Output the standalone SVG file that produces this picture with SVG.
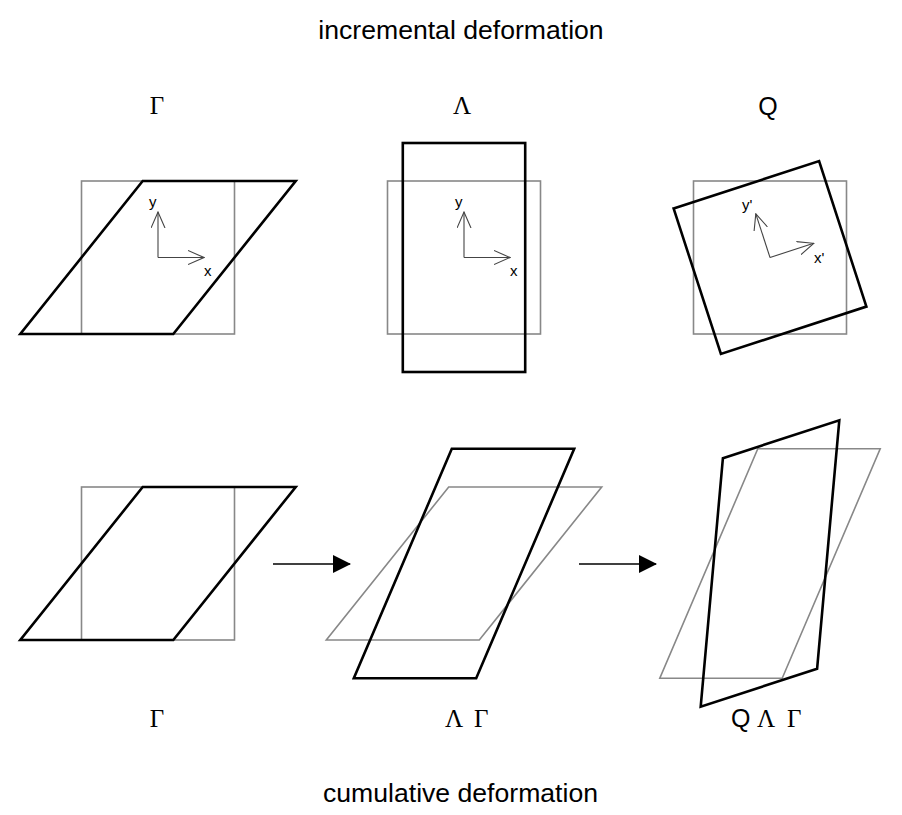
<svg xmlns="http://www.w3.org/2000/svg" width="902" height="815" viewBox="0 0 902 815">
<style>
.ref{fill:none;stroke:#888;stroke-width:1.6}
.def{fill:none;stroke:#000;stroke-width:2.6;stroke-linejoin:miter}
.ax{fill:none;stroke:#444;stroke-width:1.1}
.axl{font-family:"Liberation Sans",Arial,sans-serif;font-size:15px;fill:#000}
.title{font-family:"Liberation Sans",Arial,sans-serif;font-size:26.6px;fill:#000;text-anchor:middle}
.gr{font-family:"Liberation Serif","Times New Roman",serif;font-size:25px;fill:#000}
.q{font-family:"Liberation Sans",Arial,sans-serif;font-size:25px;fill:#000}
.conn{fill:none;stroke:#000;stroke-width:1.4}
</style>
<defs>
<marker id="open" markerUnits="userSpaceOnUse" viewBox="0 0 17 15" refX="16" refY="7.5" markerWidth="17" markerHeight="15" orient="auto">
<path d="M0,0.5 L16,7.5 L0,14.5" fill="none" stroke="#444" stroke-width="1.1"/>
</marker>
<marker id="solid" markerUnits="userSpaceOnUse" viewBox="0 0 18 18" refX="17" refY="9" markerWidth="18" markerHeight="18" orient="auto">
<path d="M0,0 L18,9 L0,18 z" fill="#000"/>
</marker>
</defs>
<rect width="902" height="815" fill="#fff"/>

<text class="title" x="461" y="39">incremental deformation</text>
<text class="title" x="460.5" y="802">cumulative deformation</text>

<g id="gamma">
<text class="gr" x="157" y="114" text-anchor="middle">Γ</text>
<rect class="ref" x="81.5" y="181" width="153" height="153"/>
<polygon class="def" points="142.7,181 295.7,181 173.3,334 20.3,334"/>
<path class="ax" d="M158,257.5 V212" marker-end="url(#open)"/>
<path class="ax" d="M158,257.5 H204" marker-end="url(#open)"/>
<text class="axl" x="149" y="207">y</text>
<text class="axl" x="204" y="276">x</text>
</g>

<g id="lambda">
<text class="gr" x="462" y="114" text-anchor="middle">Λ</text>
<rect class="ref" x="387.5" y="181" width="153" height="153"/>
<rect class="def" x="402.8" y="143" width="122.4" height="229"/>
<path class="ax" d="M464,257.5 V212" marker-end="url(#open)"/>
<path class="ax" d="M464,257.5 H510" marker-end="url(#open)"/>
<text class="axl" x="455" y="207">y</text>
<text class="axl" x="510" y="276">x</text>
</g>

<g id="q">
<text class="q" x="768" y="115" text-anchor="middle">Q</text>
<rect class="ref" x="693.5" y="181" width="153" height="153"/>
<polygon class="def" points="673.6,208.4 819.1,161.1 866.4,306.6 720.9,353.9"/>
<path class="ax" d="M770,257.5 L813.7,243.3" marker-end="url(#open)"/>
<path class="ax" d="M770,257.5 L755.8,213.8" marker-end="url(#open)"/>
<text class="axl" x="742" y="210">y'</text>
<text class="axl" x="814" y="263">x'</text>
</g>

<g id="cum-gamma">
<rect class="ref" x="81.5" y="487" width="153" height="153"/>
<polygon class="def" points="142.7,487 295.7,487 173.3,640 20.3,640"/>
<text class="gr" x="157" y="727" text-anchor="middle">Γ</text>
</g>

<g id="cum-lambda-gamma">
<polygon class="ref" points="448.7,487 601.7,487 479.3,640 326.3,640"/>
<polygon class="def" points="451.8,448.8 574.2,448.8 476.2,678.2 353.8,678.2"/>
<text class="gr" y="727"><tspan x="445">Λ</tspan><tspan x="474">Γ</tspan></text>
</g>

<g id="cum-q-lambda-gamma">
<polygon class="ref" points="757.8,448.8 880.2,448.8 782.2,678.2 659.8,678.2"/>
<polygon class="def" points="722.9,458.2 839.3,420.3 817.1,668.8 700.7,706.7"/>
<text y="727"><tspan class="q" x="731">Q</tspan><tspan class="gr" x="757">Λ</tspan><tspan class="gr" x="787">Γ</tspan></text>
</g>

<g id="connectors">
<path class="conn" d="M273,564 H350" marker-end="url(#solid)"/>
<path class="conn" d="M579,564 H656" marker-end="url(#solid)"/>
</g>
</svg>
